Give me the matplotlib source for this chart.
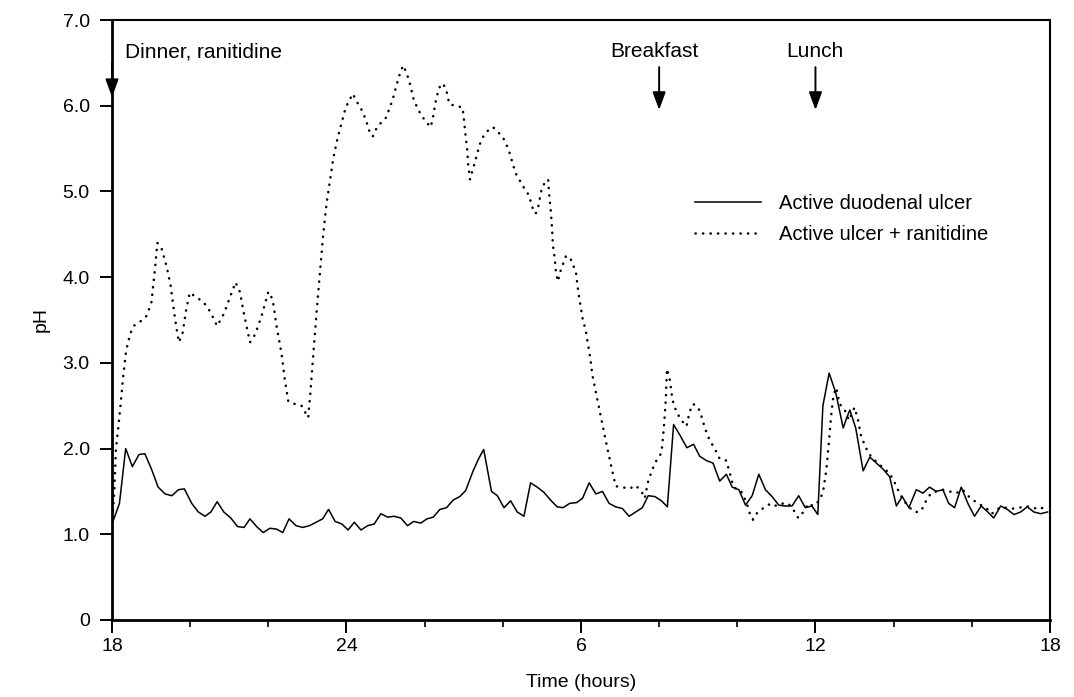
import matplotlib
matplotlib.use("Agg")
import matplotlib.pyplot as plt
from matplotlib.ticker import FixedLocator

plt.rcParams['font.family'] = ['Liberation Sans', 'DejaVu Sans']

# hours after 18:00
hours_ulcer = [0.0,0.19,0.35,0.52,0.69,0.84,1.01,1.18,1.36,1.53,1.70,1.85,2.04,2.21,2.38,2.53,2.69,2.86,3.04,3.21,
               3.38,3.53,3.70,3.87,4.04,4.21,4.37,4.53,4.71,4.88,5.05,5.22,5.39,5.54,5.71,5.88,6.04,6.20,6.37,6.54,
               6.71,6.88,7.05,7.22,7.39,7.56,7.72,7.90,8.06,8.22,8.39,8.56,8.73,8.90,9.05,9.24,9.38,9.51,9.71,9.86,
               10.03,10.20,10.37,10.54,10.71,10.88,11.05,11.22,11.39,11.54,11.71,11.89,12.04,12.21,12.38,12.55,12.72,
               12.89,13.06,13.23,13.40,13.57,13.72,13.89,14.06,14.21,14.37,14.54,14.71,14.88,15.04,15.21,15.38,15.55,
               15.72,15.87,16.04,16.21,16.38,16.55,16.72,16.89,17.06,17.23,17.40,17.57,17.74,17.91,18.06,18.19,18.35,
               18.52,18.71,18.80,18.88,19.03,19.22,19.39,19.56,19.73,19.90,20.07,20.22,20.39,20.58,20.75,20.92,21.09,
               21.26,21.41,21.56,21.73,21.90,22.07,22.24,22.41,22.56,22.74,22.91,23.08,23.25,23.42,23.59,23.76,23.94]
ph_ulcer = [1.12,1.36,2.00,1.79,1.93,1.94,1.76,1.55,1.47,1.45,1.52,1.53,1.36,1.26,1.21,1.26,1.38,1.26,1.19,1.09,
            1.08,1.18,1.09,1.02,1.07,1.06,1.02,1.18,1.10,1.08,1.10,1.14,1.18,1.29,1.15,1.12,1.05,1.14,1.05,1.10,
            1.12,1.24,1.20,1.21,1.19,1.10,1.15,1.13,1.18,1.20,1.29,1.31,1.40,1.44,1.51,1.74,1.88,1.99,1.50,1.45,
            1.31,1.39,1.26,1.21,1.60,1.55,1.49,1.40,1.32,1.31,1.36,1.37,1.42,1.60,1.47,1.50,1.36,
            1.32,1.30,1.21,1.26,1.31,1.45,1.44,1.39,1.32,2.28,2.15,2.01,2.05,1.91,1.86,1.83,1.62,
            1.70,1.55,1.52,1.34,1.45,1.70,1.52,1.44,1.34,1.33,1.33,1.45,1.31,1.33,1.23,2.50,2.88,
            2.65,2.24,2.36,2.45,2.24,1.74,1.90,1.83,1.76,1.67,1.33,1.44,1.31,1.52,1.48,1.55,1.50,
            1.52,1.36,1.31,1.55,1.36,1.21,1.33,1.26,1.19,1.33,1.29,1.23,1.26,1.32,1.26,1.24,1.26]

hours_ranit = [0.0,0.06,0.10,0.16,0.22,0.29,0.36,0.46,0.55,0.72,0.89,1.01,1.10,1.16,1.27,1.40,1.50,1.61,1.71,1.80,
               1.89,1.99,2.17,2.34,2.51,2.69,2.86,3.04,3.16,3.27,3.40,3.53,3.66,3.83,4.00,4.11,4.21,4.34,4.42,4.51,
               4.68,4.85,5.02,5.08,5.15,5.24,5.32,5.40,5.49,5.58,5.66,5.77,5.88,5.98,6.16,6.26,6.39,6.50,6.58,6.67,
               6.77,6.90,7.01,7.11,7.18,7.28,7.37,7.45,7.54,7.62,7.72,7.81,7.92,8.03,8.15,8.20,8.29,8.37,8.47,8.56,
               8.63,8.77,8.97,9.00,9.05,9.09,9.11,9.16,9.22,9.28,9.34,9.41,9.50,9.62,9.75,9.88,9.99,10.09,10.18,10.25,
               10.33,10.42,10.50,10.58,10.67,10.76,10.84,10.91,10.99,11.07,11.16,11.18,11.23,11.26,11.28,11.33,11.36,
               11.41,11.46,11.53,11.61,11.71,11.80,11.87,11.93,12.04,12.12,12.24,12.29,12.46,12.63,12.79,12.89,13.06,
               13.23,13.40,13.55,13.63,13.72,13.83,13.93,14.06,14.12,14.17,14.20,14.27,14.34,14.44,14.57,14.70,14.78,
               14.87,15.00,15.08,15.17,15.29,15.42,15.55,15.72,15.81,15.89,15.98,16.10,16.23,16.32,16.40,16.49,16.62,
               16.74,16.87,17.00,17.17,17.30,17.43,17.56,17.69,17.82,17.94,18.07,18.19,18.28,18.35,18.40,18.46,18.53,
               18.62,18.75,18.86,18.92,19.00,19.09,19.17,19.30,19.43,19.60,19.77,19.90,20.03,20.15,20.28,20.41,20.54,
               20.66,20.75,20.84,20.96,21.09,21.26,21.43,21.60,21.77,21.90,22.03,22.16,22.28,22.41,22.50,22.59,22.71,
               22.88,23.05,23.22,23.39,23.56,23.73,23.90]
ph_ranit = [1.10,1.52,2.00,2.24,2.52,2.86,3.14,3.33,3.43,3.48,3.55,3.71,4.10,4.40,4.33,4.12,3.90,3.52,3.24,3.33,
            3.60,3.82,3.76,3.71,3.60,3.43,3.57,3.79,3.94,3.83,3.52,3.24,3.33,3.55,3.83,3.74,3.43,3.10,2.81,2.55,
            2.52,2.50,2.36,2.67,3.10,3.62,4.05,4.48,4.86,5.14,5.38,5.62,5.81,5.98,6.14,6.05,5.95,5.83,5.71,5.64,
            5.74,5.81,5.86,5.98,6.07,6.24,6.38,6.47,6.38,6.26,6.07,5.98,5.88,5.82,5.75,5.83,6.07,6.21,6.26,6.17,
            6.02,6.00,5.98,5.86,5.64,5.48,5.33,5.14,5.24,5.33,5.43,5.55,5.64,5.71,5.75,5.69,5.64,5.55,5.44,5.33,
            5.21,5.14,5.07,5.02,4.95,4.81,4.74,4.83,5.02,5.10,5.14,5.00,4.76,4.57,4.38,4.21,4.05,
            3.95,4.05,4.14,4.24,4.24,4.14,4.06,3.83,3.52,3.38,3.05,2.86,2.48,2.10,1.76,1.56,1.55,
            1.53,1.57,1.50,1.42,1.62,1.76,1.86,1.95,2.24,2.57,2.93,2.81,2.57,2.43,2.33,2.26,2.43,
            2.52,2.48,2.38,2.24,2.10,2.00,1.88,1.86,1.71,1.57,1.52,1.50,1.38,1.24,1.17,1.24,1.29,
            1.33,1.36,1.33,1.36,1.36,1.29,1.19,1.26,1.36,1.33,1.38,1.48,1.76,2.10,2.38,2.62,2.71,
            2.52,2.45,2.33,2.40,2.48,2.33,2.14,2.00,1.90,1.83,1.76,1.71,1.60,1.48,1.38,1.31,1.26,
            1.26,1.31,1.40,1.48,1.50,1.52,1.50,1.48,1.52,1.45,1.40,1.36,1.33,1.29,1.24,1.26,1.31,
            1.31,1.30,1.31,1.33,1.31,1.29,1.33]

series_labels = ['Active duodenal ulcer', 'Active ulcer + ranitidine']
x_major = [0, 6, 12, 18, 24]
x_major_labels = ['18', '24', '6', '12', '18']
x_minor = [2, 4, 8, 10, 14, 16, 20, 22]
y_ticks = [0, 1, 2, 3, 4, 5, 6, 7]
y_tick_labels = ['0', '1.0', '2.0', '3.0', '4.0', '5.0', '6.0', '7.0']
events = ['Dinner, ranitidine', 'Breakfast', 'Lunch']
event_hours = [0, 14, 18]

fig = plt.figure(figsize=(10.74, 6.97), dpi=100)
ax = fig.add_axes([0.1043, 0.1105, 0.8733, 0.8608])

ax.plot(hours_ulcer, ph_ulcer, color='black', lw=1.1, label=series_labels[0])
ax.plot(hours_ranit, ph_ranit, color='black', lw=1.8, linestyle=(0, (0.1, 2.9)),
        dash_capstyle='round', label=series_labels[1])

ax.set_xlim(0, 24)
ax.set_ylim(0, 7)
ax.xaxis.set_major_locator(FixedLocator(x_major))
ax.set_xticklabels(x_major_labels)
ax.xaxis.set_minor_locator(FixedLocator(x_minor))
ax.set_yticks(y_ticks)
ax.set_yticklabels(y_tick_labels)
ax.tick_params(axis='x', which='major', length=9, width=1.4, direction='out', labelsize=14, pad=4)
ax.tick_params(axis='x', which='minor', length=5, width=1.2, direction='out')
ax.tick_params(axis='y', which='major', length=9, width=1.4, direction='out', labelsize=14, pad=7)
for side in ['left', 'bottom']:
    ax.spines[side].set_linewidth(2.0)
for side in ['top', 'right']:
    ax.spines[side].set_linewidth(1.5)

ax.set_xlabel('Time (hours)', fontsize=14, labelpad=14)
ax.set_ylabel('pH', fontsize=14, labelpad=9)

arrow_style = dict(arrowstyle='-|>,head_length=0.6,head_width=0.22', color='black', lw=1.4,
                   mutation_scale=18, shrinkA=0, shrinkB=0)
ax.text(0.33, 6.63, events[0], fontsize=15, ha='left', va='center')
ax.annotate('', xy=(event_hours[0], 6.10), xytext=(event_hours[0], 6.5), arrowprops=arrow_style)
ax.text(13.89, 6.63, events[1], fontsize=15, ha='center', va='center')
ax.annotate('', xy=(event_hours[1], 5.95), xytext=(event_hours[1], 6.45), arrowprops=arrow_style)
ax.text(17.98, 6.63, events[2], fontsize=15, ha='center', va='center')
ax.annotate('', xy=(event_hours[2], 5.95), xytext=(event_hours[2], 6.45), arrowprops=arrow_style)

ax.legend(loc='upper left', bbox_to_anchor=(0.6215, 0.71), frameon=False, fontsize=14.5,
          handlelength=3.3, handletextpad=0.85, labelspacing=0.6, borderpad=0, borderaxespad=0)

fig.savefig('out.png', dpi=100)
